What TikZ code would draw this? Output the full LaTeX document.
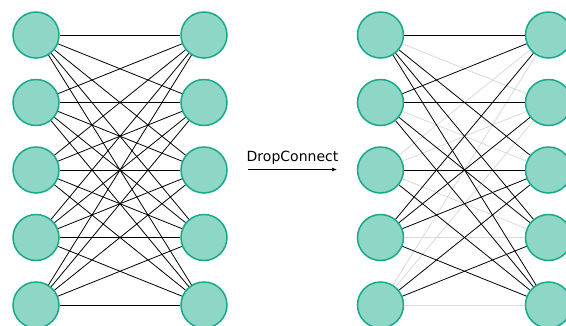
\documentclass[tikz,border=0pt]{standalone}
\usepackage{fontspec}
\usepackage{tikz}
\usetikzlibrary{arrows.meta}
\newfontfamily\labelfont{DejaVu Sans}
\definecolor{neuronfill}{HTML}{8ED6C6}
\definecolor{neuronline}{HTML}{16A98A}
\definecolor{dropgray}{HTML}{D9D9D9}
\tikzstyle{neuron} = [draw=neuronline, fill=neuronfill, line width=1.5pt,
    circle, minimum size=46pt, inner sep=0pt]
\tikzstyle{kept} = [draw=black, line width=0.8pt]
\tikzstyle{dropped} = [draw=dropgray, line width=0.8pt]
\tikzstyle{droplabel} = [font=\labelfont\fontsize{14}{16}\selectfont, inner sep=0pt, anchor=base]

\begin{document}
\begin{tikzpicture}[x=1pt, y=-1pt]
                \useasboundingbox (0,0) rectangle (566,325);
                \clip (0,0) rectangle (566,325);
                % full network
                \foreach \n/\y in {1/35,2/102.5,3/170,4/237.5,5/305}{
                    \node[neuron] (in\n) at (36,\y) {};
                    \node[neuron] (out\n) at (204,\y) {};
                }
                \foreach \i in {1,...,5}
                    \foreach \j in {1,...,5}
                        \draw[kept] (in\i) -- (out\j);
                % dropconnect network
                \foreach \n/\y in {1/35,2/102.5,3/170,4/237.5,5/305}{
                    \node[neuron] (din\n) at (380.5,\y) {};
                    \node[neuron] (dout\n) at (548.5,\y) {};
                }
                \foreach \i/\j in {1/2,2/3,3/1,3/2,3/4,4/4,5/1,5/2,5/5}
                    \draw[dropped] (din\i) -- (dout\j);
                \foreach \i/\j in {1/1,1/3,1/4,1/5,2/1,2/2,2/4,2/5,3/3,3/5,4/1,4/2,4/3,4/5,5/3,5/4}
                    \draw[kept] (din\i) -- (dout\j);
                % arrow between the two
                \node[droplabel] (dclabel) at (292.5,161) {DropConnect};
                \coordinate (arrowstart) at (248,169.5);
                \coordinate (arrowend) at (337,169.5);
                \draw[-{Latex[length=5pt,width=4pt]}, line width=0.7pt] (arrowstart) -- (arrowend);
            \end{tikzpicture}
\end{document}
